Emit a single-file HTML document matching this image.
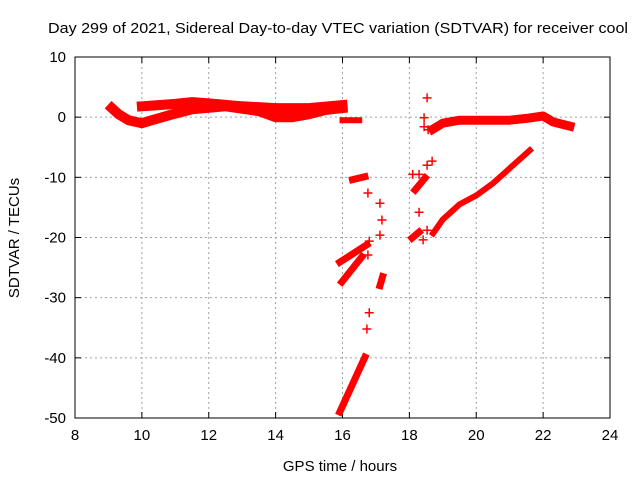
<!DOCTYPE html>
<html><head><meta charset="utf-8"><style>
html,body{margin:0;padding:0;background:#fff}
svg text{font-family:"Liberation Sans",sans-serif;font-size:14px;fill:#000}
</style></head><body>
<svg id="chart" width="640" height="480" viewBox="0 0 640 480" xmlns="http://www.w3.org/2000/svg">
<text x="48" y="33" textLength="580" lengthAdjust="spacingAndGlyphs" style="font-size:15px">Day 299 of 2021, Sidereal Day-to-day VTEC variation (SDTVAR) for receiver cool</text>
<text x="340" y="471" text-anchor="middle" style="font-size:15px">GPS time / hours</text>
<text transform="translate(19,238) rotate(-90)" text-anchor="middle" style="font-size:15px">SDTVAR / TECUs</text>
<g id="grid"></g>
<g id="axes"></g>
<g id="marks"></g>
</svg>
<script>
const xTicks=[8,10,12,14,16,18,20,22,24];
const yTicks=[10,0,-10,-20,-30,-40,-50];
const bandA_h=[9.1,9.3,9.6,10.0,10.3,10.8,11.5,12.5,13.5,14.0,14.5,15.0,15.5,16.0];
const bandA_v=[1.5,0.5,-0.5,-1.0,-0.5,0.3,1.3,1.8,1.0,0.0,0.0,0.5,1.2,1.5];
const bandB_h=[10.0,10.5,11.0,11.5,12.0,13.0,14.0,15.0,16.0];
const bandB_v=[1.8,2.0,2.2,2.5,2.3,1.8,1.5,1.5,2.0];
const bandC_h=[16.0,16.5];
const bandC_v=[-0.5,-0.5];
const bandD_h=[18.7,19.0,19.5,20.0,21.0,21.5,22.0,22.3,22.8];
const bandD_v=[-2.0,-1.0,-0.5,-0.5,-0.5,-0.2,0.2,-0.8,-1.5];
const bandE_h=[18.71,19.0,19.5,20.0,20.5,21.0,21.6];
const bandE_v=[-19.3,-17.0,-14.5,-13.0,-11.0,-8.5,-5.5];
const bandF_h=[15.92,16.73];const bandF_v=[-24.1,-21.2];
const bandG_h=[15.98,16.58];const bandG_v=[-27.4,-23.2];
const bandH_h=[15.92,16.67];const bandH_v=[-49.0,-39.9];
const bandI_h=[16.3,16.67];const bandI_v=[-10.4,-9.9];
const bandJ_h=[18.17,18.47];const bandJ_v=[-12.1,-10.1];
const bandK_h=[18.08,18.29];const bandK_v=[-20.1,-19.1];
const bandL_h=[17.12,17.2];const bandL_v=[-28.0,-26.5];
const pts_h=[16.76,17.12,17.18,17.12,16.8,16.76,16.8,16.73,18.53,18.44,18.44,18.56,18.68,18.53,18.1,18.29,18.29,18.41,18.53];
const pts_v=[-12.6,-14.3,-17.1,-19.6,-20.6,-22.9,-32.5,-35.2,3.2,-0.1,-1.6,-2.1,-7.3,-8.0,-9.5,-9.5,-15.8,-20.4,-18.8];

const X0=75,X1=610,Y0=57,Y1=418;
const sx=h=>X0+(h-8)/16*(X1-X0);
const sy=v=>Y0+(10-v)/60*(Y1-Y0);
const NS="http://www.w3.org/2000/svg";
function mk(t,a,p){const e=document.createElementNS(NS,t);for(const k in a)e.setAttribute(k,a[k]);p.appendChild(e);return e;}
const grid=document.getElementById('grid'),axes=document.getElementById('axes'),marks=document.getElementById('marks');
xTicks.forEach(t=>{const x=sx(t);
 if(t>8&&t<24){const g=mk('line',{x1:x,x2:x,y1:Y0,y2:Y1,stroke:'#a0a0a0','stroke-dasharray':'2,3'},grid);
 }
 mk('line',{x1:x,x2:x,y1:Y1,y2:Y1-6,stroke:'#000'},axes);mk('line',{x1:x,x2:x,y1:Y0,y2:Y0+6,stroke:'#000'},axes);
 const l=mk('text',{x:x,y:Y1+22,'text-anchor':'middle',style:'font-size:15px'},axes);l.textContent=t;
 });
yTicks.forEach(t=>{const y=sy(t);
 if(t<10&&t>-50){const g=mk('line',{x1:X0,x2:X1,y1:y,y2:y,stroke:'#a0a0a0','stroke-dasharray':'2,3'},grid);
 }
 mk('line',{x1:X0,x2:X0+6,y1:y,y2:y,stroke:'#000'},axes);mk('line',{x1:X1,x2:X1-6,y1:y,y2:y,stroke:'#000'},axes);
 const l=mk('text',{x:X0-9,y:y+5,'text-anchor':'end',style:'font-size:15px'},axes);l.textContent=t;
 });
const fr=mk('rect',{x:X0,y:Y0,width:X1-X0,height:Y1-Y0,fill:'none',stroke:'#000'},axes);

function band(hs,vs,w){const d=hs.map((h,i)=>sx(h).toFixed(1)+','+sy(vs[i]).toFixed(1)).join(' ');
 const p=mk('polyline',{points:d,fill:'none',stroke:'#f00','stroke-width':w,'stroke-linejoin':'round','stroke-linecap':'square'},marks);
 }
band(bandA_h,bandA_v,10);band(bandB_h,bandB_v,10);band(bandC_h,bandC_v,6);band(bandD_h,bandD_v,9);
band(bandE_h,bandE_v,6);band(bandF_h,bandF_v,7);band(bandG_h,bandG_v,7);band(bandH_h,bandH_v,7);
band(bandI_h,bandI_v,7);band(bandJ_h,bandJ_v,7);band(bandK_h,bandK_v,7);band(bandL_h,bandL_v,7);
pts_h.forEach((h,i)=>{const x=sx(h),y=sy(pts_v[i]);
 const p=mk('path',{d:`M${x-4.5},${y}H${x+4.5}M${x},${y-4.5}V${y+4.5}`,stroke:'#f00','stroke-width':1.5,fill:'none'},marks);
 });
</script>
</body></html>
